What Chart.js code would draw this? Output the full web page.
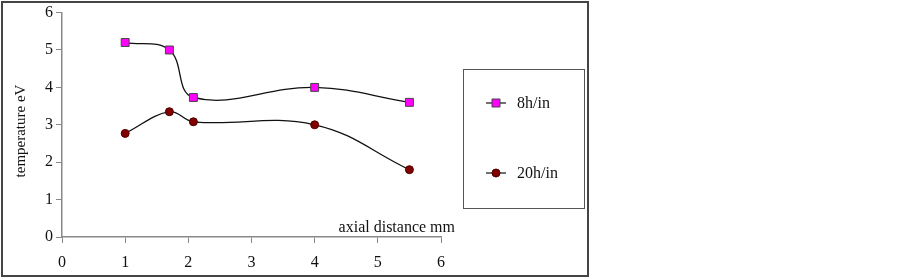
<!DOCTYPE html>
<html>
<head>
<meta charset="utf-8">
<script src="https://cdn.jsdelivr.net/npm/chart.js@4/dist/chart.umd.min.js"></script>
<style>
  body { margin: 0; background: #fff; }
  #wrap { position: relative; width: 901px; height: 279px; }
</style>
</head>
<body>
<div id="wrap"><canvas id="canvas" width="901" height="279"></canvas></div>
<script>
// values
const axialDist = [1, 1.7, 2.08, 4, 5.5];
const temp8 = [5.2, 5.0, 3.73, 4.0, 3.6];
const temp20 = [2.77, 3.35, 3.08, 3.0, 1.8];
const xTicks = [0, 1, 2, 3, 4, 5, 6];
const yTicks = [0, 1, 2, 3, 4, 5, 6];
const seriesNames = ['8h/in', '20h/in'];

const serif = 'Liberation Serif';

function toPoints(xs, ys) {
  return xs.map((x, i) => ({ x: x, y: ys[i] }));
}

// frame, axis titles and boxed legend
const extras = {
  id: 'extras',
  beforeDraw(chart) {
    const ctx = chart.ctx;
    ctx.save();
    ctx.fillStyle = '#fff';
    ctx.fillRect(0, 0, chart.width, chart.height);
    ctx.strokeStyle = '#444';
    ctx.lineWidth = 2;
    ctx.strokeRect(2, 2, 586, 274);
    ctx.restore();
  },
  afterDraw(chart) {
    const ctx = chart.ctx;
    const area = chart.chartArea;
    ctx.save();
    ctx.font = '16px "' + serif + '"';
    ctx.fillStyle = '#111';
    ctx.textAlign = 'right';
    ctx.textBaseline = 'alphabetic';
    ctx.fillText('axial distance mm', area.right + 14, area.bottom - 5);

    // y title, a bit below the middle of the axis as in the original
    ctx.save();
    ctx.translate(21, 131);
    ctx.rotate(-Math.PI / 2);
    ctx.textAlign = 'center';
    ctx.textBaseline = 'middle';
    ctx.font = '15px "' + serif + '"';
    ctx.fillText('temperature eV', 0, 0);
    ctx.restore();

    // legend box
    ctx.strokeStyle = '#555';
    ctx.lineWidth = 1;
    ctx.strokeRect(463.5, 69.5, 121, 139);
    const rows = [103, 173];
    chart.data.datasets.forEach((ds, i) => {
      const y = rows[i];
      ctx.strokeStyle = '#111';
      ctx.lineWidth = 1.2;
      ctx.beginPath();
      ctx.moveTo(486, y);
      ctx.lineTo(506, y);
      ctx.stroke();
      ctx.fillStyle = ds.pointBackgroundColor;
      ctx.strokeStyle = ds.pointBorderColor;
      ctx.lineWidth = 1;
      ctx.beginPath();
      if (ds.pointStyle === 'rect') {
        ctx.rect(492, y - 4, 8, 8);
      } else {
        ctx.arc(496, y, 4, 0, Math.PI * 2);
      }
      ctx.fill();
      ctx.stroke();
      ctx.fillStyle = '#111';
      ctx.textAlign = 'left';
      ctx.textBaseline = 'middle';
      ctx.font = '16px "' + serif + '"';
      ctx.fillText(ds.label, 517, y + 1);
    });
    ctx.restore();
  }
};

const config = {
  type: 'line',
  data: {
    datasets: [{
      label: seriesNames[0],
      data: toPoints(axialDist, temp8),
      borderColor: '#111',
      borderWidth: 1.3,
      tension: 0.4,
      pointStyle: 'rect',
      pointRadius: 5.6,
      pointBackgroundColor: '#ff00ff',
      pointBorderColor: '#444',
      pointBorderWidth: 1
    }, {
      label: seriesNames[1],
      data: toPoints(axialDist, temp20),
      borderColor: '#111',
      borderWidth: 1.3,
      tension: 0.4,
      pointStyle: 'circle',
      pointRadius: 4,
      pointBackgroundColor: '#800000',
      pointBorderColor: '#500000',
      pointBorderWidth: 1
    }]
  },
  options: {
    responsive: false,
    animation: false,
    layout: { padding: { left: 0, top: 12, right: 460, bottom: 0 } },
    plugins: {
      legend: { display: false },
      tooltip: { enabled: false }
    },
    scales: {
      x: {
        type: 'linear',
        min: 0,
        max: 6,
        afterBuildTicks: (scale) => { scale.ticks = xTicks.map(v => ({ value: v })); },
        afterFit: (scale) => { scale.height = 42; },
        grid: { drawOnChartArea: false, tickLength: 6, color: '#888', tickColor: '#888' },
        border: { color: '#888', width: 1.5 },
        ticks: { color: '#111', padding: 10, font: { family: serif, size: 16 } }
      },
      y: {
        min: 0,
        max: 6,
        afterBuildTicks: (scale) => { scale.ticks = yTicks.map(v => ({ value: v })); },
        afterFit: (scale) => { scale.width = 62; },
        grid: { drawOnChartArea: false, tickLength: 6, color: '#888', tickColor: '#888' },
        border: { color: '#888', width: 1.5 },
        ticks: { color: '#111', padding: 3, font: { family: serif, size: 16 } }
      }
    }
  },
  plugins: [extras]
};

window.myLine = new Chart(document.getElementById('canvas'), config);
</script>
</body>
</html>
